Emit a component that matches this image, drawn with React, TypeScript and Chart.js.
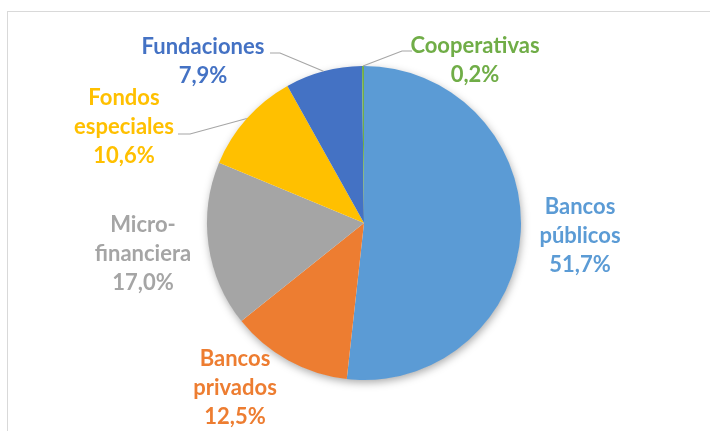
import React, { useEffect, useRef } from "react";
import { Chart, registerables } from "chart.js";

Chart.register(...registerables);

const categories = ["Bancos públicos", "Bancos privados", "Micro-financiera", "Fondos especiales", "Fundaciones", "Cooperativas"];
const values = [51.7, 12.5, 17.0, 10.6, 7.9, 0.2];
const labelLines = [
  ["Bancos", "públicos", "51,7%"],
  ["Bancos", "privados", "12,5%"],
  ["Micro-", "financiera", "17,0%"],
  ["Fondos", "especiales", "10,6%"],
  ["Fundaciones", "7,9%"],
  ["Cooperativas", "0,2%"],
];
const colors = ["#5B9BD5", "#ED7D31", "#A5A5A5", "#FFC000", "#4472C4", "#70AD47"];

// label block centres, offsets from pie centre (px)
const labelOffsets = [
  [216, 13],
  [-129, 165],
  [-221, 31],
  [-240, -96],
  [-161, -162],
  [111, -163],
];
// leader line elbow + end, offsets from pie centre (null = no leader)
const leaders: (number[][] | null)[] = [
  null,
  null,
  null,
  [[-174, -89], [-186, -89]],
  [[-84, -170], [-94, -170]],
  [[38, -172], [48, -172]],
];

const LINE_H = 29;

const labelPlugin = {
  id: "labelPlugin",
  beforeDraw(chart: any) {
    const ctx = chart.ctx;
    ctx.save();
    ctx.strokeStyle = "#D9D9D9";
    ctx.lineWidth = 1;
    ctx.strokeRect(7.5, 11.5, 800, 500);
    ctx.restore();
  },
  beforeDatasetsDraw(chart: any) {
    const meta = chart.getDatasetMeta(0);
    const arc = meta.data[0];
    if (!arc) return;
    const ctx = chart.ctx;
    ctx.save();
    ctx.shadowColor = "rgba(0,0,0,0.35)";
    ctx.shadowBlur = 9;
    ctx.shadowOffsetX = 1;
    ctx.shadowOffsetY = 3;
    ctx.fillStyle = "#ffffff";
    ctx.beginPath();
    ctx.arc(arc.x, arc.y, arc.outerRadius - 0.5, 0, Math.PI * 2);
    ctx.fill();
    ctx.restore();
  },
  afterDatasetsDraw(chart: any) {
    const meta = chart.getDatasetMeta(0);
    const ctx = chart.ctx;
    ctx.save();
    meta.data.forEach((a: any, i: number) => {
      const cx = a.x, cy = a.y, r = a.outerRadius;
      const mid = (a.startAngle + a.endAngle) / 2;
      const ld = leaders[i];
      if (ld) {
        ctx.strokeStyle = "#A6A6A6";
        ctx.lineWidth = 1.2;
        ctx.beginPath();
        ctx.moveTo(cx + Math.cos(mid) * r, cy + Math.sin(mid) * r);
        ctx.lineTo(cx + ld[0][0], cy + ld[0][1]);
        ctx.lineTo(cx + ld[1][0], cy + ld[1][1]);
        ctx.stroke();
      }
      const lines = labelLines[i];
      const [ox, oy] = labelOffsets[i];
      const x = cx + ox;
      const y0 = cy + oy - ((lines.length - 1) * LINE_H) / 2;
      ctx.fillStyle = colors[i];
      ctx.font = "bold 22px Lato, 'Liberation Sans', sans-serif";
      ctx.textAlign = "center";
      ctx.textBaseline = "middle";
      lines.forEach((t, k) => ctx.fillText(t, x, y0 + k * LINE_H));
    });
    ctx.restore();
  },
};

export default function App() {
  const ref = useRef<HTMLCanvasElement>(null);
  useEffect(() => {
    if (!ref.current) return;
    const chart = new Chart(ref.current, {
      type: "pie",
      data: {
        labels: categories,
        datasets: [
          {
            data: values,
            backgroundColor: colors,
            borderWidth: 0,
          },
        ],
      },
      options: {
        animation: false,
        responsive: false,
        maintainAspectRatio: false,
        layout: { padding: { top: 66, bottom: 51, left: 207, right: 189 } },
        plugins: {
          legend: { display: false },
          tooltip: { enabled: false },
        },
      },
      plugins: [labelPlugin],
    });
    return () => chart.destroy();
  }, []);
  return (
    <div style={{ position: "fixed", left: 0, top: 0, width: 710, height: 431, background: "#fff" }}>
      <canvas ref={ref} width={710} height={431} style={{ width: 710, height: 431 }} />
    </div>
  );
}
